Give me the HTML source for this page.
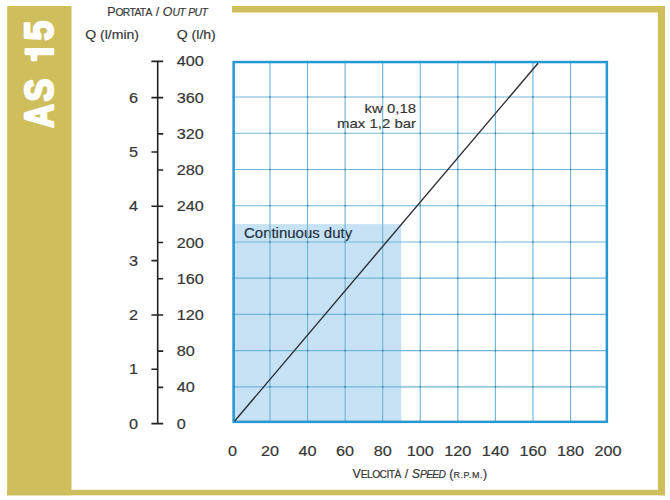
<!DOCTYPE html>
<html><head><meta charset="utf-8"><style>
html,body{margin:0;padding:0;background:#fff;width:670px;height:500px;overflow:hidden}
svg{display:block;font-family:"Liberation Sans",sans-serif}
</style></head><body>
<svg width="670" height="500" viewBox="0 0 670 500" font-family="Liberation Sans, sans-serif">
<rect x="7.2" y="6" width="64.3" height="489.3" fill="#cfbf5c"/>
<rect x="7" y="489.8" width="658" height="5.5" fill="#cfbf5c"/>
<rect x="658" y="6" width="7" height="489.3" fill="#cfbf5c"/>
<rect x="232" y="6" width="433" height="6.5" fill="#cfbf5c"/>
<path d="M25.6 49H53.2V54.1H36.2V60.1H31.8V54.1H25.6Z" fill="#fff" stroke="#fff" stroke-width="2.2" stroke-linejoin="round"/>
<text transform="translate(53.3,129) rotate(-90) translate(1.18,0) scale(0.814,1)" font-weight="bold" font-size="40.3" fill="#fff" stroke="#fff" stroke-width="2.4" stroke-linejoin="round">A</text>
<text transform="translate(53.3,129) rotate(-90) translate(27.62,0) scale(0.845,1)" font-weight="bold" font-size="40.3" fill="#fff" stroke="#fff" stroke-width="2.4" stroke-linejoin="round">S</text>
<text transform="translate(53.3,129) rotate(-90) translate(88.61,0) scale(0.878,1)" font-weight="bold" font-size="40.3" fill="#fff" stroke="#fff" stroke-width="2.4" stroke-linejoin="round">5</text>
<rect x="232.4" y="224.1" width="168.90" height="199.00" fill="#c7e1f5"/>
<text transform="translate(244.00,238.00) scale(1.07,1)" font-size="14" fill="#223040" stroke="#223040" stroke-width="0.18">Continuous duty</text>
<path d="M269.97 60.8V423.1M232.4 97.03H608.1M307.54 60.8V423.1M232.4 133.26H608.1M345.11 60.8V423.1M232.4 169.49H608.1M382.68 60.8V423.1M232.4 205.72H608.1M420.25 60.8V423.1M232.4 241.95H608.1M457.82 60.8V423.1M232.4 278.18H608.1M495.39 60.8V423.1M232.4 314.41H608.1M532.96 60.8V423.1M232.4 350.64H608.1M570.53 60.8V423.1M232.4 386.87H608.1" stroke="#70b6d9" stroke-width="1.15" fill="none"/>
<path d="M269.17 96.23h1.6v1.6h-1.6zM269.17 132.46h1.6v1.6h-1.6zM269.17 168.69h1.6v1.6h-1.6zM269.17 204.92h1.6v1.6h-1.6zM269.17 241.15h1.6v1.6h-1.6zM269.17 277.38h1.6v1.6h-1.6zM269.17 313.61h1.6v1.6h-1.6zM269.17 349.84h1.6v1.6h-1.6zM269.17 386.07h1.6v1.6h-1.6zM306.74 96.23h1.6v1.6h-1.6zM306.74 132.46h1.6v1.6h-1.6zM306.74 168.69h1.6v1.6h-1.6zM306.74 204.92h1.6v1.6h-1.6zM306.74 241.15h1.6v1.6h-1.6zM306.74 277.38h1.6v1.6h-1.6zM306.74 313.61h1.6v1.6h-1.6zM306.74 349.84h1.6v1.6h-1.6zM306.74 386.07h1.6v1.6h-1.6zM344.31 96.23h1.6v1.6h-1.6zM344.31 132.46h1.6v1.6h-1.6zM344.31 168.69h1.6v1.6h-1.6zM344.31 204.92h1.6v1.6h-1.6zM344.31 241.15h1.6v1.6h-1.6zM344.31 277.38h1.6v1.6h-1.6zM344.31 313.61h1.6v1.6h-1.6zM344.31 349.84h1.6v1.6h-1.6zM344.31 386.07h1.6v1.6h-1.6zM381.88 96.23h1.6v1.6h-1.6zM381.88 132.46h1.6v1.6h-1.6zM381.88 168.69h1.6v1.6h-1.6zM381.88 204.92h1.6v1.6h-1.6zM381.88 241.15h1.6v1.6h-1.6zM381.88 277.38h1.6v1.6h-1.6zM381.88 313.61h1.6v1.6h-1.6zM381.88 349.84h1.6v1.6h-1.6zM381.88 386.07h1.6v1.6h-1.6zM419.45 96.23h1.6v1.6h-1.6zM419.45 132.46h1.6v1.6h-1.6zM419.45 168.69h1.6v1.6h-1.6zM419.45 204.92h1.6v1.6h-1.6zM419.45 241.15h1.6v1.6h-1.6zM419.45 277.38h1.6v1.6h-1.6zM419.45 313.61h1.6v1.6h-1.6zM419.45 349.84h1.6v1.6h-1.6zM419.45 386.07h1.6v1.6h-1.6zM457.02 96.23h1.6v1.6h-1.6zM457.02 132.46h1.6v1.6h-1.6zM457.02 168.69h1.6v1.6h-1.6zM457.02 204.92h1.6v1.6h-1.6zM457.02 241.15h1.6v1.6h-1.6zM457.02 277.38h1.6v1.6h-1.6zM457.02 313.61h1.6v1.6h-1.6zM457.02 349.84h1.6v1.6h-1.6zM457.02 386.07h1.6v1.6h-1.6zM494.59 96.23h1.6v1.6h-1.6zM494.59 132.46h1.6v1.6h-1.6zM494.59 168.69h1.6v1.6h-1.6zM494.59 204.92h1.6v1.6h-1.6zM494.59 241.15h1.6v1.6h-1.6zM494.59 277.38h1.6v1.6h-1.6zM494.59 313.61h1.6v1.6h-1.6zM494.59 349.84h1.6v1.6h-1.6zM494.59 386.07h1.6v1.6h-1.6zM532.16 96.23h1.6v1.6h-1.6zM532.16 132.46h1.6v1.6h-1.6zM532.16 168.69h1.6v1.6h-1.6zM532.16 204.92h1.6v1.6h-1.6zM532.16 241.15h1.6v1.6h-1.6zM532.16 277.38h1.6v1.6h-1.6zM532.16 313.61h1.6v1.6h-1.6zM532.16 349.84h1.6v1.6h-1.6zM532.16 386.07h1.6v1.6h-1.6zM569.73 96.23h1.6v1.6h-1.6zM569.73 132.46h1.6v1.6h-1.6zM569.73 168.69h1.6v1.6h-1.6zM569.73 204.92h1.6v1.6h-1.6zM569.73 241.15h1.6v1.6h-1.6zM569.73 277.38h1.6v1.6h-1.6zM569.73 313.61h1.6v1.6h-1.6zM569.73 349.84h1.6v1.6h-1.6zM569.73 386.07h1.6v1.6h-1.6z" fill="#4a8aa8"/>
<rect x="233.65" y="62.05" width="373.20" height="359.80" stroke="#2698d3" stroke-width="2.5" fill="none"/>
<line x1="234.7" y1="421" x2="538" y2="63.2" stroke="#2b2f35" stroke-width="1.4"/>
<path d="M157.7 61.4V423.6M157.7 423.60H163.2M157.7 387.38H163.2M157.7 351.16H163.2M157.7 314.94H163.2M157.7 278.72H163.2M157.7 242.50H163.2M157.7 206.28H163.2M157.7 170.06H163.2M157.7 133.84H163.2M157.7 97.62H163.2M157.7 61.40H163.2M151.4 423.60H157.7M151.4 369.27H157.7M151.4 314.94H157.7M151.4 260.61H157.7M151.4 206.28H157.7M151.4 151.95H157.7M151.4 97.62H157.7M151.4 61.4H157.7" stroke="#222" stroke-width="1.6" fill="none"/>
<text transform="translate(176.80,428.60) scale(1.16,1)" font-size="14" fill="#363636" stroke="#363636" stroke-width="0.18">0</text>
<text transform="translate(176.80,392.38) scale(1.16,1)" font-size="14" fill="#363636" stroke="#363636" stroke-width="0.18">40</text>
<text transform="translate(176.80,356.16) scale(1.16,1)" font-size="14" fill="#363636" stroke="#363636" stroke-width="0.18">80</text>
<text transform="translate(176.80,319.94) scale(1.16,1)" font-size="14" fill="#363636" stroke="#363636" stroke-width="0.18">120</text>
<text transform="translate(176.80,283.72) scale(1.16,1)" font-size="14" fill="#363636" stroke="#363636" stroke-width="0.18">160</text>
<text transform="translate(176.80,247.50) scale(1.16,1)" font-size="14" fill="#363636" stroke="#363636" stroke-width="0.18">200</text>
<text transform="translate(176.80,211.28) scale(1.16,1)" font-size="14" fill="#363636" stroke="#363636" stroke-width="0.18">240</text>
<text transform="translate(176.80,175.06) scale(1.16,1)" font-size="14" fill="#363636" stroke="#363636" stroke-width="0.18">280</text>
<text transform="translate(176.80,138.84) scale(1.16,1)" font-size="14" fill="#363636" stroke="#363636" stroke-width="0.18">320</text>
<text transform="translate(176.80,102.62) scale(1.16,1)" font-size="14" fill="#363636" stroke="#363636" stroke-width="0.18">360</text>
<text transform="translate(176.80,66.40) scale(1.16,1)" font-size="14" fill="#363636" stroke="#363636" stroke-width="0.18">400</text>
<text transform="translate(138.00,428.60) scale(1.16,1)" font-size="14" fill="#363636" stroke="#363636" stroke-width="0.18" text-anchor="end">0</text>
<text transform="translate(138.00,374.27) scale(1.16,1)" font-size="14" fill="#363636" stroke="#363636" stroke-width="0.18" text-anchor="end">1</text>
<text transform="translate(138.00,319.94) scale(1.16,1)" font-size="14" fill="#363636" stroke="#363636" stroke-width="0.18" text-anchor="end">2</text>
<text transform="translate(138.00,265.61) scale(1.16,1)" font-size="14" fill="#363636" stroke="#363636" stroke-width="0.18" text-anchor="end">3</text>
<text transform="translate(138.00,211.28) scale(1.16,1)" font-size="14" fill="#363636" stroke="#363636" stroke-width="0.18" text-anchor="end">4</text>
<text transform="translate(138.00,156.95) scale(1.16,1)" font-size="14" fill="#363636" stroke="#363636" stroke-width="0.18" text-anchor="end">5</text>
<text transform="translate(138.00,102.62) scale(1.16,1)" font-size="14" fill="#363636" stroke="#363636" stroke-width="0.18" text-anchor="end">6</text>
<text transform="translate(232.40,456.00) scale(1.16,1)" font-size="14" fill="#363636" stroke="#363636" stroke-width="0.18" text-anchor="middle">0</text>
<text transform="translate(269.97,456.00) scale(1.16,1)" font-size="14" fill="#363636" stroke="#363636" stroke-width="0.18" text-anchor="middle">20</text>
<text transform="translate(307.54,456.00) scale(1.16,1)" font-size="14" fill="#363636" stroke="#363636" stroke-width="0.18" text-anchor="middle">40</text>
<text transform="translate(345.11,456.00) scale(1.16,1)" font-size="14" fill="#363636" stroke="#363636" stroke-width="0.18" text-anchor="middle">60</text>
<text transform="translate(382.68,456.00) scale(1.16,1)" font-size="14" fill="#363636" stroke="#363636" stroke-width="0.18" text-anchor="middle">80</text>
<text transform="translate(420.25,456.00) scale(1.16,1)" font-size="14" fill="#363636" stroke="#363636" stroke-width="0.18" text-anchor="middle">100</text>
<text transform="translate(457.82,456.00) scale(1.16,1)" font-size="14" fill="#363636" stroke="#363636" stroke-width="0.18" text-anchor="middle">120</text>
<text transform="translate(495.39,456.00) scale(1.16,1)" font-size="14" fill="#363636" stroke="#363636" stroke-width="0.18" text-anchor="middle">140</text>
<text transform="translate(532.96,456.00) scale(1.16,1)" font-size="14" fill="#363636" stroke="#363636" stroke-width="0.18" text-anchor="middle">160</text>
<text transform="translate(570.53,456.00) scale(1.16,1)" font-size="14" fill="#363636" stroke="#363636" stroke-width="0.18" text-anchor="middle">180</text>
<text transform="translate(608.10,456.00) scale(1.16,1)" font-size="14" fill="#363636" stroke="#363636" stroke-width="0.18" text-anchor="middle">200</text>
<text transform="translate(107.20,15.60) scale(1.0,1)" font-size="12.4" fill="#363636" stroke="#363636" stroke-width="0.18">P<tspan font-size="10.3" letter-spacing="-0.62">ORTAT</tspan><tspan font-size="10.3">A</tspan> / <tspan font-style="italic">O<tspan font-size="10.3" letter-spacing="-0.62">U</tspan><tspan font-size="10.3">T </tspan><tspan font-size="10.3" letter-spacing="-0.62">PU</tspan><tspan font-size="10.3">T</tspan></tspan></text>
<text transform="translate(85.20,39.20) scale(1.04,1)" font-size="13.5" fill="#363636" stroke="#363636" stroke-width="0.18">Q (l/min)</text>
<text transform="translate(176.80,39.20) scale(1.04,1)" font-size="13.5" fill="#363636" stroke="#363636" stroke-width="0.18">Q (l/h)</text>
<text transform="translate(416.00,113.30) scale(1.1,1)" font-size="13.6" fill="#363636" stroke="#363636" stroke-width="0.18" text-anchor="end">kw 0,18</text>
<text transform="translate(416.00,128.10) scale(1.1,1)" font-size="13.6" fill="#363636" stroke="#363636" stroke-width="0.18" text-anchor="end">max 1,2 bar</text>
<text transform="translate(352.40,477.60) scale(1.0,1)" font-size="12.4" fill="#363636" stroke="#363636" stroke-width="0.18">V<tspan font-size="10.3" letter-spacing="-0.55">ELOCIT</tspan><tspan font-size="10.3">À</tspan> / <tspan font-style="italic">S<tspan font-size="10.3" letter-spacing="-0.75">PEE</tspan><tspan font-size="10.3">D</tspan></tspan> (<tspan font-size="9" letter-spacing="0.55">R.P.M.</tspan>)</text>
</svg>
</body></html>
